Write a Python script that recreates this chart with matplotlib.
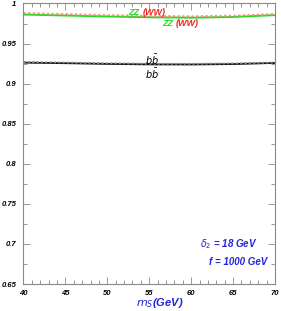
import matplotlib
matplotlib.use("Agg")
import matplotlib.pyplot as plt
from matplotlib.ticker import MultipleLocator, FixedLocator, FixedFormatter

mS = [40, 45, 50, 55, 60, 65, 70]
zz = [0.9862, 0.9850, 0.9838, 0.9828, 0.9823, 0.9832, 0.9855]
ww = [0.9880, 0.9868, 0.9855, 0.9845, 0.9840, 0.9848, 0.9868]
bb_solid = [0.9262, 0.9255, 0.9246, 0.9240, 0.9239, 0.9244, 0.9258]
bb_dot = [0.9270, 0.9263, 0.9254, 0.9248, 0.9247, 0.9252, 0.9264]

yticks = [0.65, 0.7, 0.75, 0.8, 0.85, 0.9, 0.95, 1.0]
ylabels = ["0.65", "0.7", "0.75", "0.8", "0.85", "0.9", "0.95", "1"]
xticks = [40, 45, 50, 55, 60, 65, 70]

plt.rcParams['font.family'] = ['Liberation Sans', 'DejaVu Sans']
fig = plt.figure(figsize=(2.81, 3.11), dpi=100)
ax = fig.add_axes([0.0836, 0.0868, 0.895, 0.902])

ax.plot(mS, zz, color='#22dd22', lw=1.4, solid_capstyle='butt')
ax.plot(mS, ww, color='#ff9080', lw=1.4, ls=(0, (1.2, 1.2)))
ax.plot(mS, bb_solid, color='#111111', lw=1.3)
ax.plot(mS, bb_dot, color='#888888', lw=1.3, ls=(0, (1.2, 1.2)))

ax.set_xlim(40, 70)
ax.set_ylim(0.65, 1.0)
ax.yaxis.set_major_locator(FixedLocator(yticks))
ax.yaxis.set_major_formatter(FixedFormatter(ylabels))
ax.yaxis.set_minor_locator(MultipleLocator(0.025))
ax.xaxis.set_major_locator(FixedLocator(xticks))
ax.xaxis.set_minor_locator(MultipleLocator(1))
ax.tick_params(which='both', direction='in', top=True, right=True, color='#888888', width=0.6)
ax.tick_params(which='major', length=5)
ax.tick_params(which='minor', length=3)
ax.tick_params(axis='y', which='both', labelright=False)
ax.tick_params(labelsize=5.5)
ax.tick_params(axis='y', pad=5)
ax.tick_params(axis='x', pad=4)
for lab in ax.get_xticklabels() + ax.get_yticklabels():
    lab.set_fontstyle('italic')
    lab.set_fontweight('bold')
for s in ax.spines.values():
    s.set_color('#888888')
    s.set_linewidth(0.8)

kw = dict(fontsize=6.5, fontstyle='italic', fontweight='bold', va='center')
ax.text(52.5, 0.9893, 'ZZ', color='#22dd22', **kw)
ax.text(54.2, 0.9893, '(WW)', color='#ee2222', **kw)
ax.text(56.5, 0.9748, 'ZZ', color='#22dd22', **kw)
ax.text(58.2, 0.9748, '(WW)', color='#ee2222', **kw)
ax.text(54.5, 0.9295, r'$\mathbf{\mathit{b\bar{b}}}$', color='black', fontsize=7, va='center')
ax.text(54.5, 0.9115, r'$\mathbf{\mathit{b\bar{b}}}$', color='black', fontsize=7, va='center')

ax.text(67.9, 0.700, r'$\delta_2$ = 18 GeV', color='#2222dd', ha='right', fontsize=7,
        fontstyle='italic', fontweight='bold', va='center')
ax.text(69.05, 0.6775, 'f = 1000 GeV', color='#2222dd', ha='right', fontsize=7,
        fontstyle='italic', fontweight='bold', va='center')

fig.text(160 / 281, 1 - 302.5 / 311, r'$m_S$(GeV)', color='#2222dd', fontsize=8,
         fontstyle='italic', fontweight='bold', ha='center', va='center')

fig.savefig('out.png', dpi=100)
